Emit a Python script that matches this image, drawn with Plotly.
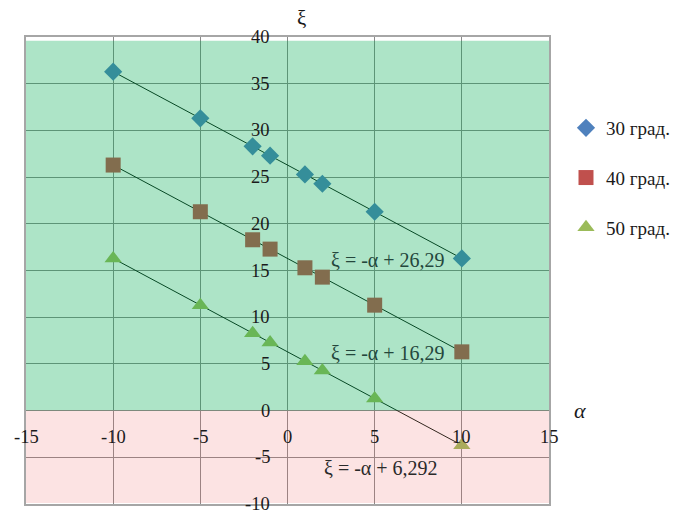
import numpy as np
import plotly.graph_objects as go

alpha = [-10, -5, -2, -1, 1, 2, 5, 10]
xi_30 = [36.29, 31.29, 28.29, 27.29, 25.29, 24.29, 21.29, 16.29]
xi_40 = [26.29, 21.29, 18.29, 17.29, 15.29, 14.29, 11.29, 6.29]
xi_50 = [16.292, 11.292, 8.292, 7.292, 5.292, 4.292, 1.292, -3.708]
series_names = ["30 град.", "40 град.", "50 град."]
x_ticks = [-15, -10, -5, 0, 5, 10, 15]
y_ticks = [-10, -5, 0, 5, 10, 15, 20, 25, 30, 35, 40]
eq_labels = ["ξ = -α + 26,29", "ξ = -α + 16,29", "ξ = -α + 6,292"]

colors = ["#4F81BD", "#C0504D", "#9BBB59"]
symbols = ["diamond", "square", "triangle-up"]
sizes = [14, 15, 15]
FONT = "Liberation Serif, Times New Roman, serif"

fig = go.Figure()
series = [xi_30, xi_40, xi_50]
xa = np.array(alpha, dtype=float)
for i, ys in enumerate(series):
    k, b = np.polyfit(xa, np.array(ys), 1)
    xl = np.array([xa.min(), xa.max()])
    fig.add_trace(go.Scatter(x=xl, y=k * xl + b, mode="lines",
                             line=dict(color="#0a1a10", width=1),
                             showlegend=False, hoverinfo="skip"))
for i, ys in enumerate(series):
    fig.add_trace(go.Scatter(x=alpha, y=ys, mode="markers", name=series_names[i],
                             legendgroup=f"g{i}",
                             marker=dict(color=colors[i], symbol=symbols[i], size=sizes[i],
                                         line=dict(width=0))))

# background zones drawn over the data (semi-transparent)
fig.add_shape(type="rect", x0=-15, x1=15, y0=0, y1=39.6, layer="above",
              line=dict(width=0), fillcolor="rgba(0,170,80,0.32)")
fig.add_shape(type="rect", x0=-15, x1=15, y0=-9.9, y1=0, layer="above",
              line=dict(width=0), fillcolor="rgba(240,100,100,0.18)")

ann = []
for t in y_ticks:
    ann.append(dict(x=0, y=t, xref="x", yref="y", text=str(t), showarrow=False,
                    xanchor="right", yanchor="middle", xshift=-16,
                    font=dict(family=FONT, size=18.5, color="#1a1a1a")))
for t in x_ticks:
    ann.append(dict(x=t, y=0, xref="x", yref="y", text=str(t), showarrow=False,
                    xanchor="center", yanchor="middle", yshift=-26,
                    font=dict(family=FONT, size=18.5, color="#1a1a1a")))
eq_pos = [(388, 260), (388, 353), (381, 468)]
eq_colors = ["#24473c", "#24473c", "#2a2a2a"]
for i, txt in enumerate(eq_labels):
    px, py = eq_pos[i]
    ann.append(dict(x=(px - 26) / 523, y=1 - (py - 37) / 467, xref="paper", yref="paper",
                    text=txt, showarrow=False, xanchor="center", yanchor="middle",
                    font=dict(family=FONT, size=20, color=eq_colors[i])))
ann.append(dict(x=(301 - 26) / 523, y=1 + 19 / 467, xref="paper", yref="paper",
                text="ξ", showarrow=False, xanchor="center", yanchor="middle",
                font=dict(family=FONT, size=21, color="#1a1a1a")))
ann.append(dict(x=(580 - 26) / 523, y=0, xref="paper", yref="y",
                text="<i>α</i>", showarrow=False, xanchor="center", yanchor="middle",
                font=dict(family=FONT, size=22, color="#1a1a1a")))

fig.update_layout(
    width=673, height=514,
    margin=dict(l=26, r=124, t=37, b=10, autoexpand=False),
    paper_bgcolor="white", plot_bgcolor="white",
    annotations=ann,
    showlegend=True,
    legend=dict(x=(566 - 26) / 523, y=1 - (109 - 37) / 467, xanchor="left", yanchor="top",
                font=dict(family=FONT, size=19, color="#1a1a1a"),
                tracegroupgap=22, bgcolor="rgba(0,0,0,0)"),
    font=dict(family=FONT),
)
fig.update_xaxes(range=[-15, 15], tickvals=x_ticks, showticklabels=False,
                 showgrid=True, gridcolor="#8a8a8a", gridwidth=1,
                 zeroline=True, zerolinecolor="#8a8a8a", zerolinewidth=1,
                 showline=True, linecolor="#a6a6a6", linewidth=1.5, mirror=True)
fig.update_yaxes(range=[-10, 40], tickvals=y_ticks, showticklabels=False,
                 showgrid=True, gridcolor="#8a8a8a", gridwidth=1,
                 zeroline=True, zerolinecolor="#8a8a8a", zerolinewidth=1,
                 showline=True, linecolor="#a6a6a6", linewidth=1.5, mirror=True)

fig.write_html("out.html", config={"responsive": False, "displayModeBar": False},
               post_script="document.body.style.margin='0';document.body.style.overflow='hidden';")
